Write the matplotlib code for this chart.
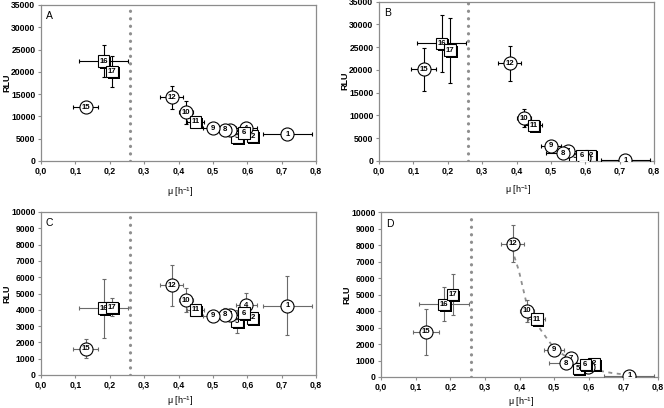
import matplotlib
matplotlib.use("Agg")
import matplotlib.pyplot as plt
import matplotlib.patheffects as pe

plt.rcParams['font.family'] = ['Liberation Sans', 'DejaVu Sans']

# ---------------- data ----------------
point_ids = [1, 2, 4, 5, 6, 7, 8, 9, 10, 11, 12, 15, 16, 17]
marker_shapes = ['o', 's', 'o', 's', 's', 'o', 'o', 'o', 'o', 's', 'o', 'o', 's', 's']
mu = [0.717, 0.615, 0.597, 0.570, 0.590, 0.549, 0.535, 0.500, 0.422, 0.450, 0.380, 0.130, 0.182, 0.207]
mu_err = [0.072, 0.012, 0.030, 0.010, 0.012, 0.015, 0.050, 0.028, 0.020, 0.025, 0.034, 0.037, 0.071, 0.015]

rlu_A = [6000, 5600, 7300, 5400, 6300, 6900, 7000, 7300, 10900, 8800, 14300, 12100, 22400, 20100]
rlu_A_err = [300, 500, 1500, 700, 800, 800, 1400, 500, 2500, 600, 2600, 400, 3600, 3500]

rlu_B = [150, 1250, 600, 1000, 1250, 2150, 1650, 3350, 9400, 7800, 21400, 20100, 25800, 24300]
rlu_B_err = [100, 300, 300, 300, 300, 300, 300, 400, 2000, 500, 3750, 4800, 6300, 7100]

rlu_C = [4250, 3500, 4270, 3300, 3800, 3700, 3700, 3650, 4600, 4000, 5500, 1600, 4100, 4150]
rlu_C_err = [1800, 200, 780, 700, 300, 300, 400, 200, 750, 300, 1250, 580, 1820, 550]

rlu_D = [80, 790, 600, 520, 750, 1150, 830, 1660, 4000, 3500, 8080, 2730, 4400, 5000]
rlu_D_err = [50, 150, 150, 150, 150, 150, 200, 150, 680, 200, 1110, 1400, 1030, 1260]

trend_D_mu = [0.380, 0.384, 0.398, 0.420, 0.437, 0.456, 0.480, 0.491, 0.523, 0.552, 0.590, 0.629, 0.667, 0.706, 0.717]
trend_D_rlu = [7800, 7370, 6457, 4494, 3826, 3016, 2308, 2004, 1400, 990, 587, 385, 243, 142, 120]

threshold_mu = 0.26

xticks = [0.0, 0.1, 0.2, 0.3, 0.4, 0.5, 0.6, 0.7, 0.8]
xtick_labels = ["0,0", "0,1", "0,2", "0,3", "0,4", "0,5", "0,6", "0,7", "0,8"]
yticks_AB = [0, 5000, 10000, 15000, 20000, 25000, 30000, 35000]
yticks_CD = [0, 1000, 2000, 3000, 4000, 5000, 6000, 7000, 8000, 9000, 10000]

panel_letters = ["A", "B", "C", "D"]

# ---------------- figure ----------------
W, H = 664, 408
fig = plt.figure(figsize=(W / 100, H / 100), dpi=100)


def add_ax(l, r, t, b):
    return fig.add_axes([l / W, 1 - b / H, (r - l) / W, (b - t) / H])


panels = [
    (add_ax(41, 316, 5, 161), rlu_A, rlu_A_err, yticks_AB, 35000, 'black', None),
    (add_ax(379, 654, 1.5, 161), rlu_B, rlu_B_err, yticks_AB, 35000, 'black', None),
    (add_ax(41, 316, 212, 375), rlu_C, rlu_C_err, yticks_CD, 10000, '#6a6a6a', None),
    (add_ax(381, 658, 212, 377), rlu_D, rlu_D_err, yticks_CD, 10000, '#6a6a6a', (trend_D_mu, trend_D_rlu)),
]

frame_col = '#8c8c8c'
shadow = [pe.SimplePatchShadow(offset=(1.3, -1.3), shadow_rgbFace='black', alpha=1.0), pe.Normal()]

for (ax, vals, errs, yt, ymax, ecol, trend), letter in zip(panels, panel_letters):
    ax.set_xlim(0, 0.8)
    ax.set_ylim(0, ymax)
    ax.set_xticks(xticks)
    ax.set_xticklabels(xtick_labels)
    ax.set_yticks(yt)
    ax.set_yticklabels([str(v) for v in yt])
    ax.tick_params(direction='out', length=2.5, width=0.8, color=frame_col,
                   labelsize=6.2, pad=1.5)
    for lab in ax.get_xticklabels() + ax.get_yticklabels():
        lab.set_fontweight('bold')
    for sp in ax.spines.values():
        sp.set_color(frame_col)
        sp.set_linewidth(0.9)

    # threshold line
    ax.axvline(threshold_mu, color='#8f8f8f', lw=2.3, linestyle=(0, (0.05, 2.3)),
               dash_capstyle='round', zorder=1)

    if trend is not None:
        ax.plot(trend[0], trend[1], color='#8f8f8f', lw=1.3, linestyle=(0, (2.2, 2.5)), zorder=2)

    # error bars
    ax.errorbar(mu, vals, xerr=mu_err, yerr=errs, fmt='none', ecolor=ecol,
                elinewidth=0.8, capsize=1.6, capthick=0.8, zorder=3)

    # markers with labels
    for i, (pid, shp) in enumerate(zip(point_ids, marker_shapes)):
        z = 4 + i * 0.1
        if shp == 's':
            ax.plot([mu[i]], [vals[i]], marker='s', ms=8.3, mfc='white', mec='black',
                    mew=0.8, linestyle='none', zorder=z, path_effects=shadow)
        else:
            ax.plot([mu[i]], [vals[i]], marker='o', ms=9.4, mfc='white', mec='black',
                    mew=0.8, linestyle='none', zorder=z)
        ax.text(mu[i], vals[i], str(pid), ha='center', va='center', fontsize=5.6,
                fontweight='bold', zorder=z + 0.05)

    ax.text(0.018, 0.93, letter, transform=ax.transAxes, ha='left', va='center',
            fontsize=7.5)

    ax.set_ylabel('RLU', fontsize=6.5, fontweight='bold')
    ax.yaxis.set_label_coords(-0.125, 0.5)
    ax.yaxis.label.set_va('center')
    ax.set_xlabel('μ [h$^{\\mathregular{-1}}$]', fontsize=6.5)

# x label positions
xl_pos = [-0.2, -0.18, -0.16, -0.15]
for (ax, *_), yp in zip(panels, xl_pos):
    ax.xaxis.set_label_coords(0.505, yp)
    ax.xaxis.label.set_va('center')

fig.savefig('out.png', dpi=100)
